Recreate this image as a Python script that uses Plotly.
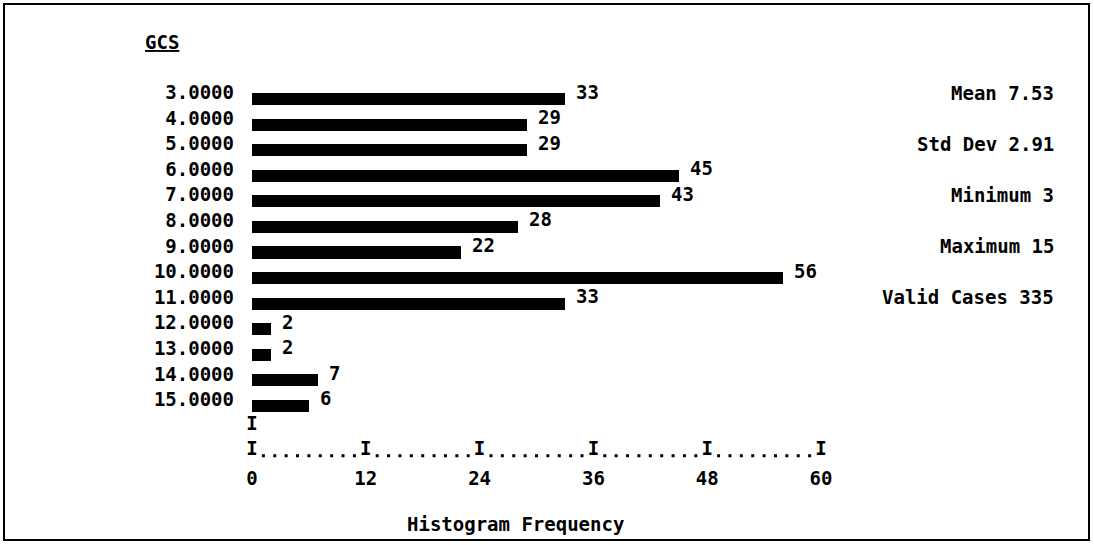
import plotly.graph_objects as go

# ---- data ----
gcs_values = [3, 4, 5, 6, 7, 8, 9, 10, 11, 12, 13, 14, 15]
frequencies = [33, 29, 29, 45, 43, 28, 22, 56, 33, 2, 2, 7, 6]
gcs_labels = [f"{v:.4f}" for v in gcs_values]
x_ticks = [0, 12, 24, 36, 48, 60]
stat_names = ["Mean", "Std Dev", "Minimum", "Maximum", "Valid Cases"]
stat_values = ["7.53", "2.91", "3", "15", "335"]
stat_rows = [3, 5, 7, 9, 11]
title_text = "GCS"
x_title = "Histogram Frequency"

# ---- layout geometry ----
W, H = 1094, 545
L_PX, R_PX = 252, 821        # x=0 and x=60
T_PX, B_PX = 70, 463         # plot top/bottom
ROW0_PX, ROW_PITCH = 92.5, 25.58
y_top = 3 - (ROW0_PX - T_PX) / ROW_PITCH
y_bot = 3 + (B_PX - ROW0_PX) / ROW_PITCH

FONT = dict(family="DejaVu Sans Mono", size=19, color="black", weight="bold")

def px_to_paper_x(px):
    return (px - L_PX) / (R_PX - L_PX)

def px_to_paper_y(py):
    return (B_PX - py) / (B_PX - T_PX)

fig = go.Figure()

# histogram bars
fig.add_trace(go.Bar(
    x=frequencies, y=gcs_values, orientation="h",
    marker=dict(color="black", line=dict(width=0)),
    width=0.47, offset=0.02,
    hoverinfo="skip", showlegend=False,
))

# frequency labels at the end of each bar
for v, f in zip(gcs_values, frequencies):
    fig.add_annotation(x=f, y=v, xref="x", yref="y", text=str(f),
                       showarrow=False, xanchor="left", yanchor="middle",
                       xshift=9, yshift=1, font=FONT)

# text-style axis: "I" marker under the bar origin and at each tick
fig.add_trace(go.Scatter(
    x=[0], y=[16], mode="text", text=["I"], textfont=FONT,
    hoverinfo="skip", showlegend=False, cliponaxis=False,
))
fig.add_trace(go.Scatter(
    x=x_ticks, y=[17] * len(x_ticks), mode="text", text=["I"] * len(x_ticks),
    textfont=FONT, hoverinfo="skip", showlegend=False, cliponaxis=False,
))
# dotted leader between ticks (one dot per character cell)
step = (x_ticks[1] - x_ticks[0]) / 10
dots_x = [x_ticks[0] + k * step for k in range(1, 10 * (len(x_ticks) - 1)) if k % 10 != 0]
fig.add_trace(go.Scatter(
    x=dots_x, y=[17.2] * len(dots_x), mode="markers",
    marker=dict(symbol="square", size=3, color="black"),
    hoverinfo="skip", showlegend=False, cliponaxis=False,
))

# summary statistics on the right
for name, val, row in zip(stat_names, stat_values, stat_rows):
    fig.add_annotation(x=px_to_paper_x(1056), y=row, xref="paper", yref="y",
                       text=f"{name} {val}", showarrow=False,
                       xanchor="right", yanchor="middle", font=FONT)

# title and axis caption
fig.add_annotation(x=px_to_paper_x(143), y=px_to_paper_y(42), xref="paper", yref="paper",
                   text=f"<u>{title_text}</u>", showarrow=False,
                   xanchor="left", yanchor="middle", font=FONT)
fig.add_annotation(x=px_to_paper_x(515), y=px_to_paper_y(524), xref="paper", yref="paper",
                   text=x_title, showarrow=False,
                   xanchor="center", yanchor="middle", font=FONT)

# frame around the whole figure
fig.add_shape(type="rect", xref="paper", yref="paper",
              x0=px_to_paper_x(4), x1=px_to_paper_x(1089),
              y0=px_to_paper_y(540), y1=px_to_paper_y(4),
              line=dict(color="black", width=2), fillcolor="rgba(0,0,0,0)")

fig.update_layout(
    width=W, height=H,
    margin=dict(l=L_PX, r=W - R_PX, t=T_PX, b=H - B_PX, pad=0, autoexpand=False),
    paper_bgcolor="white", plot_bgcolor="white",
    font=FONT,
    xaxis=dict(range=[0, 60], tickvals=x_ticks, ticktext=[str(t) for t in x_ticks],
               showgrid=False, zeroline=False, showline=False, ticks="",
               tickfont=FONT, ticklabelstandoff=2, fixedrange=True),
    yaxis=dict(range=[y_bot, y_top], tickvals=gcs_values, ticktext=gcs_labels,
               showgrid=False, zeroline=False, showline=False, ticks="",
               tickfont=FONT, ticklabelstandoff=17, fixedrange=True),
    bargap=0,
)

fig.write_html(
    "out.html",
    config={"displayModeBar": False},
    post_script="document.body.style.margin='0';document.body.style.overflow='hidden';",
)
